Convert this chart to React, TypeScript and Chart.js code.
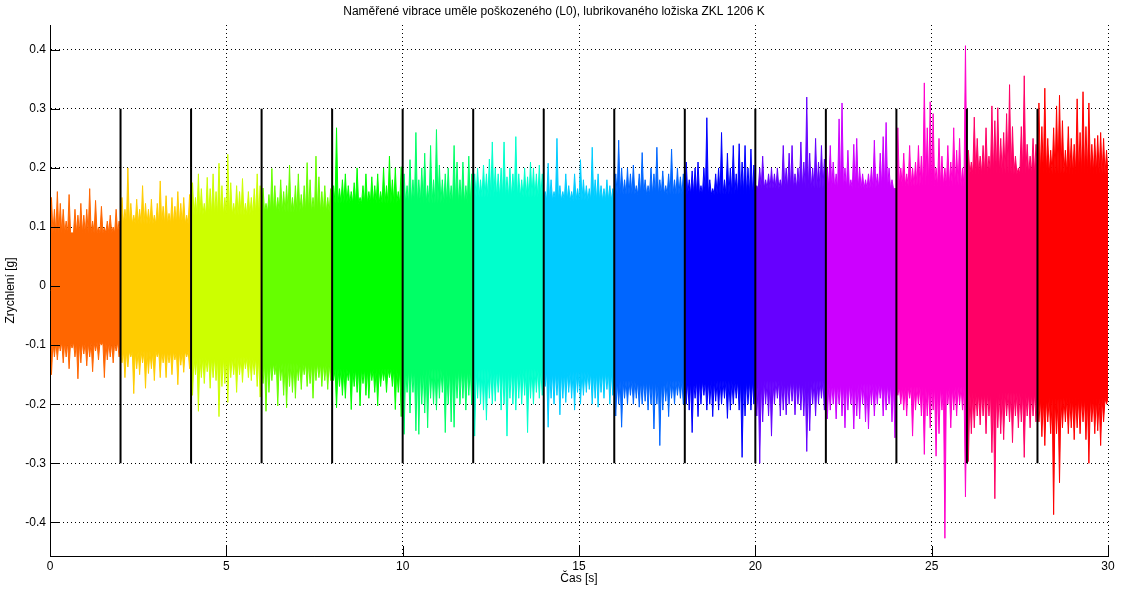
import React, { useEffect, useRef } from 'react';
import { Chart, registerables } from 'chart.js';

Chart.register(...registerables);

const TITLE = 'Naměřené vibrace uměle poškozeného (L0), lubrikovaného ložiska ZKL 1206 K';
const X_LABEL = 'Čas [s]';
const Y_LABEL = 'Zrychlení [g]';

const X_MIN = 0;
const X_MAX = 30;
const Y_MIN = -0.457;
const Y_MAX = 0.442;
const X_STEP = 5;
const Y_STEP = 0.1;

const segmentStarts = [0, 2, 4, 6, 8, 10, 12, 14, 16, 18, 20, 22, 24, 26, 28];
const segmentDuration = 2;
const segmentColors = [
  '#FF6600', '#FFCC00', '#CCFF00', '#66FF00', '#00FF00',
  '#00FF66', '#00FFCC', '#00CCFF', '#0066FF', '#0000FF',
  '#6600FF', '#CC00FF', '#FF00CC', '#FF0066', '#FF0000',
];

// solid part of each segment's band
const coreHigh = [0.09, 0.105, 0.12, 0.125, 0.14, 0.14, 0.15, 0.145, 0.155, 0.155, 0.165, 0.165, 0.17, 0.19, 0.19];
const coreLow = [-0.095, -0.11, -0.12, -0.13, -0.14, -0.14, -0.14, -0.145, -0.16, -0.16, -0.16, -0.165, -0.17, -0.18, -0.19];

// local peaks of the signal (upper / lower) within each 2 s segment
const up00 = [0.15, 0.13, 0.16, 0.14, 0.13, 0.11, 0.155, 0.09, 0.13, 0.12, 0.14, 0.12, 0.13, 0.165, 0.11, 0.145, 0.10, 0.135, 0.10, 0.11, 0.12, 0.1, 0.13, 0.11];
const dn00 = [-0.15, -0.12, -0.125, -0.11, -0.13, -0.12, -0.14, -0.105, -0.12, -0.157, -0.13, -0.115, -0.135, -0.12, -0.145, -0.11, -0.125, -0.10, -0.155, -0.125, -0.12, -0.13, -0.11, -0.12];
const up02 = [0.15, 0.13, 0.20, 0.14, 0.12, 0.147, 0.13, 0.17, 0.14, 0.13, 0.147, 0.12, 0.14, 0.178, 0.135, 0.153, 0.123, 0.15, 0.135, 0.16, 0.14, 0.15, 0.12, 0.155];
const dn02 = [-0.13, -0.155, -0.137, -0.12, -0.182, -0.14, -0.15, -0.13, -0.173, -0.148, -0.14, -0.16, -0.12, -0.155, -0.13, -0.155, -0.13, -0.15, -0.125, -0.167, -0.134, -0.146, -0.12, -0.14];
const up04 = [0.175, 0.15, 0.19, 0.165, 0.14, 0.184, 0.165, 0.19, 0.16, 0.208, 0.17, 0.15, 0.223, 0.175, 0.14, 0.17, 0.16, 0.182, 0.14, 0.16, 0.15, 0.165, 0.19, 0.17];
const dn04 = [-0.185, -0.15, -0.212, -0.155, -0.165, -0.145, -0.173, -0.155, -0.16, -0.221, -0.17, -0.165, -0.197, -0.155, -0.15, -0.18, -0.15, -0.163, -0.14, -0.155, -0.16, -0.15, -0.17, -0.188];
const up06 = [0.166, 0.14, 0.155, 0.199, 0.17, 0.15, 0.18, 0.16, 0.17, 0.205, 0.15, 0.17, 0.19, 0.155, 0.17, 0.209, 0.18, 0.15, 0.22, 0.185, 0.16, 0.17, 0.15, 0.165];
const dn06 = [-0.165, -0.212, -0.18, -0.16, -0.15, -0.203, -0.16, -0.185, -0.206, -0.17, -0.18, -0.19, -0.16, -0.175, -0.15, -0.17, -0.165, -0.19, -0.16, -0.155, -0.17, -0.16, -0.175, -0.16];
const up08 = [0.17, 0.268, 0.165, 0.18, 0.19, 0.17, 0.16, 0.175, 0.2, 0.15, 0.17, 0.19, 0.16, 0.185, 0.17, 0.19, 0.16, 0.2, 0.17, 0.22, 0.18, 0.2, 0.16, 0.202];
const dn08 = [-0.16, -0.206, -0.17, -0.185, -0.19, -0.16, -0.209, -0.17, -0.18, -0.203, -0.165, -0.185, -0.19, -0.16, -0.18, -0.203, -0.17, -0.16, -0.18, -0.155, -0.17, -0.209, -0.18, -0.221];
const up10 = [0.19, 0.17, 0.214, 0.18, 0.26, 0.18, 0.2, 0.225, 0.17, 0.238, 0.18, 0.265, 0.205, 0.18, 0.19, 0.2, 0.17, 0.238, 0.21, 0.18, 0.21, 0.17, 0.22, 0.19];
const dn10 = [-0.251, -0.18, -0.215, -0.18, -0.245, -0.251, -0.2, -0.215, -0.24, -0.19, -0.2, -0.21, -0.19, -0.18, -0.248, -0.2, -0.23, -0.239, -0.19, -0.2, -0.19, -0.21, -0.185, -0.2];
const up12 = [0.19, 0.2, 0.18, 0.205, 0.19, 0.215, 0.244, 0.2, 0.19, 0.2, 0.244, 0.185, 0.2, 0.19, 0.253, 0.19, 0.18, 0.2, 0.185, 0.21, 0.2, 0.19, 0.205, 0.19];
const dn12 = [-0.254, -0.19, -0.2, -0.21, -0.227, -0.19, -0.2, -0.195, -0.18, -0.21, -0.2, -0.254, -0.19, -0.2, -0.21, -0.19, -0.2, -0.185, -0.248, -0.19, -0.2, -0.18, -0.19, -0.185];
const up14 = [0.16, 0.208, 0.18, 0.16, 0.25, 0.17, 0.16, 0.19, 0.17, 0.16, 0.19, 0.165, 0.214, 0.18, 0.17, 0.165, 0.235, 0.18, 0.19, 0.17, 0.165, 0.18, 0.17, 0.165];
const dn14 = [-0.17, -0.239, -0.19, -0.2, -0.185, -0.218, -0.19, -0.197, -0.18, -0.19, -0.21, -0.18, -0.2, -0.185, -0.18, -0.175, -0.2, -0.19, -0.205, -0.18, -0.19, -0.175, -0.2, -0.185];
const up16 = [0.19, 0.247, 0.2, 0.18, 0.2, 0.19, 0.205, 0.17, 0.19, 0.226, 0.18, 0.17, 0.2, 0.19, 0.235, 0.18, 0.195, 0.17, 0.19, 0.232, 0.18, 0.2, 0.185, 0.19];
const dn16 = [-0.22, -0.2, -0.239, -0.19, -0.2, -0.185, -0.2, -0.19, -0.205, -0.2, -0.195, -0.21, -0.2, -0.242, -0.2, -0.27, -0.21, -0.195, -0.221, -0.19, -0.2, -0.185, -0.19, -0.2];
const up18 = [0.21, 0.18, 0.195, 0.2, 0.21, 0.17, 0.2, 0.285, 0.18, 0.165, 0.19, 0.2, 0.26, 0.18, 0.225, 0.2, 0.238, 0.19, 0.241, 0.21, 0.238, 0.2, 0.232, 0.205];
const dn18 = [-0.2, -0.21, -0.248, -0.19, -0.221, -0.2, -0.185, -0.21, -0.2, -0.221, -0.195, -0.21, -0.2, -0.19, -0.224, -0.21, -0.2, -0.19, -0.21, -0.29, -0.22, -0.2, -0.21, -0.2];
const up20 = [0.17, 0.2, 0.22, 0.18, 0.19, 0.2, 0.19, 0.2, 0.18, 0.238, 0.2, 0.225, 0.238, 0.19, 0.2, 0.244, 0.21, 0.32, 0.225, 0.2, 0.25, 0.21, 0.238, 0.215];
const dn20 = [-0.22, -0.3, -0.23, -0.2, -0.22, -0.254, -0.2, -0.19, -0.22, -0.21, -0.218, -0.2, -0.195, -0.218, -0.2, -0.21, -0.22, -0.28, -0.245, -0.2, -0.22, -0.2, -0.19, -0.21];
const up22 = [0.2, 0.238, 0.21, 0.19, 0.283, 0.31, 0.2, 0.23, 0.18, 0.24, 0.25, 0.2, 0.19, 0.18, 0.19, 0.2, 0.247, 0.19, 0.225, 0.253, 0.277, 0.2, 0.18, 0.165];
const dn22 = [-0.225, -0.21, -0.2, -0.225, -0.2, -0.22, -0.24, -0.21, -0.2, -0.242, -0.22, -0.225, -0.2, -0.23, -0.242, -0.2, -0.22, -0.2, -0.19, -0.22, -0.21, -0.2, -0.23, -0.257];
const up24 = [0.268, 0.2, 0.225, 0.19, 0.238, 0.2, 0.21, 0.238, 0.22, 0.344, 0.268, 0.312, 0.292, 0.2, 0.25, 0.22, 0.2, 0.238, 0.21, 0.268, 0.23, 0.25, 0.2, 0.407];
const dn24 = [-0.185, -0.2, -0.21, -0.22, -0.19, -0.254, -0.21, -0.2, -0.22, -0.285, -0.22, -0.24, -0.21, -0.288, -0.25, -0.21, -0.427, -0.2, -0.24, -0.21, -0.22, -0.2, -0.21, -0.357];
const up26 = [0.23, 0.21, 0.286, 0.25, 0.22, 0.238, 0.268, 0.22, 0.305, 0.28, 0.302, 0.25, 0.26, 0.292, 0.341, 0.27, 0.22, 0.2, 0.27, 0.356, 0.24, 0.22, 0.25, 0.24];
const dn26 = [-0.297, -0.25, -0.24, -0.22, -0.235, -0.22, -0.25, -0.22, -0.282, -0.36, -0.24, -0.25, -0.26, -0.22, -0.23, -0.265, -0.22, -0.24, -0.23, -0.29, -0.22, -0.24, -0.22, -0.23];
const up28 = [0.31, 0.27, 0.335, 0.25, 0.23, 0.268, 0.305, 0.323, 0.28, 0.23, 0.27, 0.25, 0.24, 0.317, 0.26, 0.329, 0.27, 0.31, 0.24, 0.25, 0.255, 0.26, 0.25, 0.23];
const dn28 = [-0.23, -0.255, -0.27, -0.23, -0.25, -0.387, -0.25, -0.333, -0.24, -0.23, -0.25, -0.24, -0.26, -0.24, -0.25, -0.23, -0.26, -0.3, -0.23, -0.25, -0.245, -0.27, -0.23, -0.2];

const upperPeaks = [up00, up02, up04, up06, up08, up10, up12, up14, up16, up18, up20, up22, up24, up26, up28];
const lowerPeaks = [dn00, dn02, dn04, dn06, dn08, dn10, dn12, dn14, dn16, dn18, dn20, dn22, dn24, dn26, dn28];

// black separators between segments
const separatorTimes = [2, 4, 6, 8, 10, 12, 14, 16, 18, 20, 22, 24, 26, 28];
const separatorLow = -0.3;
const separatorHigh = 0.3;

const FONT = 'Liberation Sans, Arial, Helvetica, sans-serif';

function envelope(t0: number, peaks: number[], core: number) {
  const n = peaks.length;
  const step = segmentDuration / (2 * n);
  const pts: { x: number; y: number }[] = [];
  for (let k = 0; k <= 2 * n; k++) {
    pts.push({ x: t0 + k * step, y: k % 2 === 1 ? peaks[(k - 1) / 2] : core });
  }
  return pts;
}

const innerTicks = {
  id: 'innerTicks',
  afterDatasetsDraw(chart: any) {
    const { ctx, chartArea, scales } = chart;
    const len = 10;
    ctx.save();
    ctx.strokeStyle = '#000';
    ctx.lineWidth = 1;
    ctx.setLineDash([]);
    ctx.beginPath();
    scales.x.ticks.forEach((t: any) => {
      const px = Math.round(scales.x.getPixelForValue(t.value)) + 0.5;
      ctx.moveTo(px, chartArea.bottom);
      ctx.lineTo(px, chartArea.bottom - len);
    });
    scales.y.ticks.forEach((t: any) => {
      const py = Math.round(scales.y.getPixelForValue(t.value)) + 0.5;
      ctx.moveTo(chartArea.left, py);
      ctx.lineTo(chartArea.left + len, py);
    });
    const lx = Math.round(chartArea.left) + 0.5;
    const by = Math.round(chartArea.bottom) + 0.5;
    ctx.moveTo(lx, chartArea.top);
    ctx.lineTo(lx, by);
    ctx.lineTo(chartArea.right, by);
    ctx.stroke();
    ctx.restore();
  },
};

export default function App() {
  const ref = useRef<HTMLCanvasElement | null>(null);

  useEffect(() => {
    if (!ref.current) return;
    const datasets: any[] = [];
    separatorTimes.forEach((t) => {
      datasets.push({
        data: [{ x: t, y: separatorLow }, { x: t, y: separatorHigh }],
        borderColor: '#000',
        borderWidth: 2,
        pointRadius: 0,
        fill: false,
      });
    });
    segmentStarts.forEach((t0, s) => {
      const color = segmentColors[s];
      datasets.push({
        data: envelope(t0, upperPeaks[s], coreHigh[s]),
        borderColor: color,
        backgroundColor: color,
        borderWidth: 1,
        pointRadius: 0,
        tension: 0,
        fill: '+1',
      });
      datasets.push({
        data: envelope(t0, lowerPeaks[s], coreLow[s]),
        borderColor: color,
        backgroundColor: color,
        borderWidth: 1,
        pointRadius: 0,
        tension: 0,
        fill: false,
      });
    });

    const chart = new Chart(ref.current, {
      type: 'line',
      data: { datasets },
      options: {
        animation: false,
        responsive: false,
        events: [],
        layout: { padding: { top: 0, right: 13, bottom: 0, left: 0 } },
        plugins: {
          legend: { display: false },
          tooltip: { enabled: false },
          title: {
            display: true,
            text: TITLE,
            color: '#000',
            font: { family: FONT, size: 12, weight: 'normal' },
            padding: { top: 4, bottom: 6.6 },
          },
        },
        scales: {
          x: {
            type: 'linear',
            min: X_MIN,
            max: X_MAX,
            afterFit: (scale: any) => { scale.height = 41; },
            ticks: {
              stepSize: X_STEP,
              color: '#000',
              font: { family: FONT, size: 12 },
              padding: 3,
              maxRotation: 0,
            },
            grid: { color: '#000', lineWidth: 1, drawTicks: false },
            border: { display: true, color: '#000', width: 1, dash: [1, 3] },
            title: {
              display: true,
              text: X_LABEL,
              color: '#000',
              font: { family: FONT, size: 12 },
              padding: { top: 0, bottom: 11 },
            },
          },
          y: {
            type: 'linear',
            min: Y_MIN,
            max: Y_MAX,
            afterFit: (scale: any) => { scale.width = 50; },
            ticks: {
              stepSize: Y_STEP,
              includeBounds: false,
              color: '#000',
              font: { family: FONT, size: 12 },
              padding: 4,
              callback: (v: any) => (Math.abs(v) < 1e-9 ? '0' : Number(v).toFixed(1)),
            },
            grid: { color: '#000', lineWidth: 1, drawTicks: false },
            border: { display: true, color: '#000', width: 1, dash: [1, 3] },
            title: {
              display: true,
              text: Y_LABEL,
              color: '#000',
              font: { family: FONT, size: 12 },
              padding: { top: 3, bottom: 0 },
            },
          },
        },
      } as any,
      plugins: [innerTicks],
    });
    return () => chart.destroy();
  }, []);

  return (
    <div style={{ position: 'fixed', left: 0, top: 0, width: 1121, height: 597, background: '#fff' }}>
      <canvas ref={ref} width={1121} height={597} style={{ display: 'block', width: 1121, height: 597 }} />
    </div>
  );
}
